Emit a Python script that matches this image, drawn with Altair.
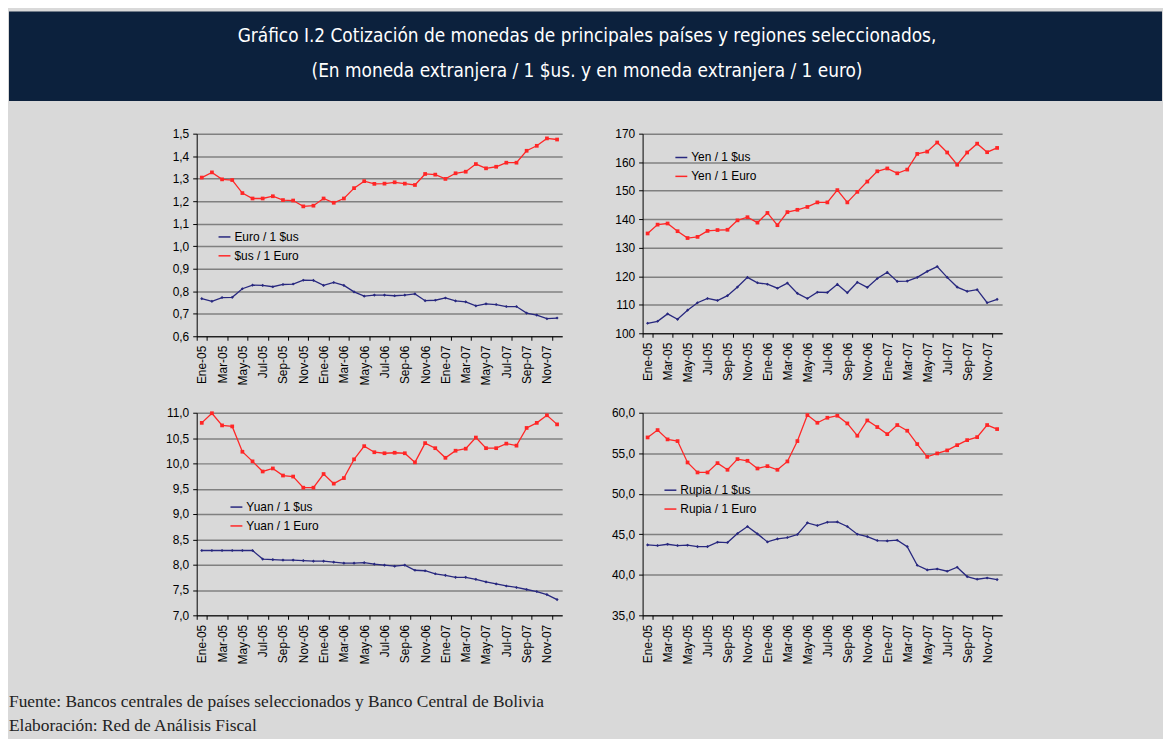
import altair as alt
import pandas as pd

MONTHS = ["Ene-05", "Feb-05", "Mar-05", "Abr-05", "May-05", "Jun-05", "Jul-05", "Ago-05", "Sep-05", "Oct-05", "Nov-05", "Dic-05",
          "Ene-06", "Feb-06", "Mar-06", "Abr-06", "May-06", "Jun-06", "Jul-06", "Ago-06", "Sep-06", "Oct-06", "Nov-06", "Dic-06",
          "Ene-07", "Feb-07", "Mar-07", "Abr-07", "May-07", "Jun-07", "Jul-07", "Ago-07", "Sep-07", "Oct-07", "Nov-07", "Dic-07"]
TICK_MONTHS = MONTHS[::2]

TITLE_LINES = ["Gráfico I.2 Cotización de monedas de principales países y regiones seleccionados,",
               "(En moneda extranjera / 1 $us. y en moneda extranjera / 1 euro)"]
FOOTER_LINES = ["Fuente: Bancos centrales de países seleccionados y Banco Central de Bolivia",
                "Elaboración: Red de Análisis Fiscal"]

EURO_USD = [0.767, 0.755, 0.772, 0.773, 0.811, 0.827, 0.826, 0.820, 0.830, 0.832, 0.849, 0.848,
            0.826, 0.839, 0.826, 0.797, 0.778, 0.783, 0.783, 0.780, 0.783, 0.788, 0.758, 0.760,
            0.770, 0.757, 0.753, 0.735, 0.744, 0.741, 0.732, 0.732, 0.703, 0.694, 0.678, 0.681]
USD_EURO = [1.305, 1.328, 1.297, 1.294, 1.236, 1.212, 1.212, 1.222, 1.205, 1.203, 1.177, 1.180,
            1.212, 1.193, 1.212, 1.258, 1.289, 1.277, 1.278, 1.284, 1.278, 1.272, 1.321, 1.318,
            1.299, 1.324, 1.331, 1.365, 1.346, 1.353, 1.371, 1.371, 1.424, 1.446, 1.479, 1.474]

YEN_USD = [103.5, 104.2, 106.8, 104.9, 108.1, 110.7, 112.2, 111.5, 113.2, 116.2, 119.6, 117.7,
           117.2, 115.8, 117.6, 114.0, 112.2, 114.4, 114.3, 117.2, 114.2, 117.9, 116.1, 119.2,
           121.4, 118.2, 118.3, 119.6, 121.7, 123.4, 119.6, 116.2, 114.7, 115.3, 110.7, 111.9]
YEN_EURO = [135.0, 138.1, 138.5, 135.8, 133.4, 133.8, 135.9, 136.2, 136.3, 139.6, 140.7, 138.8,
            142.2, 137.9, 142.5, 143.3, 144.3, 145.9, 145.9, 150.2, 145.9, 149.6, 153.2, 156.8,
            157.8, 156.1, 157.4, 162.9, 163.7, 166.9, 163.4, 159.1, 163.4, 166.5, 163.5, 165.0]

YUAN_USD = [8.28, 8.28, 8.28, 8.28, 8.28, 8.28, 8.11, 8.10, 8.09, 8.09, 8.08, 8.07,
            8.07, 8.05, 8.03, 8.03, 8.04, 8.01, 7.99, 7.97, 7.99, 7.89, 7.88, 7.82,
            7.79, 7.75, 7.75, 7.71, 7.66, 7.62, 7.58, 7.55, 7.51, 7.47, 7.41, 7.31]
YUAN_EURO = [10.80, 10.99, 10.75, 10.73, 10.23, 10.04, 9.84, 9.90, 9.76, 9.74, 9.52, 9.52,
             9.79, 9.60, 9.71, 10.08, 10.34, 10.22, 10.20, 10.21, 10.20, 10.02, 10.40, 10.30,
             10.11, 10.25, 10.29, 10.51, 10.30, 10.30, 10.39, 10.35, 10.70, 10.80, 10.95, 10.77]

RUPIA_USD = [43.69, 43.61, 43.77, 43.61, 43.65, 43.48, 43.48, 44.02, 43.98, 45.09, 45.96, 45.05,
             44.06, 44.43, 44.60, 44.97, 46.41, 46.08, 46.49, 46.53, 45.96, 45.01, 44.72, 44.23,
             44.18, 44.27, 43.48, 41.18, 40.60, 40.72, 40.44, 40.93, 39.78, 39.45, 39.61, 39.41]
RUPIA_EURO = [56.95, 57.86, 56.71, 56.50, 53.86, 52.63, 52.63, 53.78, 52.96, 54.28, 54.07, 53.12,
              53.41, 52.96, 53.99, 56.50, 59.71, 58.76, 59.38, 59.63, 58.68, 57.16, 59.05, 58.23,
              57.36, 58.48, 57.78, 56.13, 54.56, 54.98, 55.35, 56.00, 56.62, 56.99, 58.48, 57.98]

TICKS_EURO = [0.6, 0.7, 0.8, 0.9, 1.0, 1.1, 1.2, 1.3, 1.4, 1.5]
TICKS_YEN = [100, 110, 120, 130, 140, 150, 160, 170]
TICKS_YUAN = [7.0, 7.5, 8.0, 8.5, 9.0, 9.5, 10.0, 10.5, 11.0]
TICKS_RUPIA = [35.0, 40.0, 45.0, 50.0, 55.0, 60.0]

NAVY = "#28287f"
RED = "#ff2626"
BANNER = "#0c213d"
BG = "#d9d9d9"
LABEL_FONT = "Liberation Sans"
TITLE_FONT = "DejaVu Sans Condensed"


def panel(name1, vals1, name2, vals2, yticks, fmt, lx, ly, w, h):
    df = pd.DataFrame({
        "mes": MONTHS + MONTHS,
        "serie": [name1] * len(vals1) + [name2] * len(vals2),
        "valor": vals1 + vals2,
    })
    x = alt.X("mes:O", sort=MONTHS, title=None,
              scale=alt.Scale(type="band", paddingInner=0, paddingOuter=0),
              axis=alt.Axis(values=TICK_MONTHS, labelAngle=270, tickBand="extent",
                            labelFontSize=12, labelPadding=5, tickSize=4, grid=False))
    y = alt.Y("valor:Q", title=None,
              scale=alt.Scale(domain=[yticks[0], yticks[-1]], nice=False, zero=False),
              axis=alt.Axis(values=yticks, labelExpr=f"replace(format(datum.value, '{fmt}'), '.', ',')",
                            labelFontSize=12, labelPadding=4, tickSize=4, grid=True,
                            gridColor="#808080", gridWidth=1.5))
    dom = [name1, name2]
    line = alt.Chart(df).mark_line(strokeWidth=1.3).encode(
        x=x, y=y,
        color=alt.Color("serie:N", sort=dom, scale=alt.Scale(domain=dom, range=[NAVY, RED]),
                        legend=alt.Legend(title=None, orient="none", legendX=lx, legendY=ly,
                                          symbolType="stroke", symbolSize=144, symbolStrokeWidth=1.5,
                                          labelFontSize=12, labelFont=LABEL_FONT, labelColor="black",
                                          labelOffset=3, rowPadding=6, padding=0)),
    )
    p1 = alt.Chart(df).transform_filter(alt.datum.serie == name1).mark_point(
        filled=True, opacity=1, shape="diamond", size=10, color=NAVY).encode(x=x, y=y)
    p2 = alt.Chart(df).transform_filter(alt.datum.serie == name2).mark_point(
        filled=True, opacity=1, shape="square", size=14, color=RED).encode(x=x, y=y)
    return alt.layer(line, p1, p2).properties(width=w, height=h)


one = pd.DataFrame({"k": [0]})

banner_rect = alt.Chart(one).mark_rect(color=BANNER).encode(
    x=alt.value(-189), x2=alt.value(972), y=alt.value(-123), y2=alt.value(-33))
title1 = alt.Chart(pd.DataFrame({"t": [TITLE_LINES[0]]})).mark_text(
    font=TITLE_FONT, fontSize=19, color="white", align="center", baseline="middle").encode(
    x=alt.value(393), y=alt.value(-98), text="t:N")
title2 = alt.Chart(pd.DataFrame({"t": [TITLE_LINES[1]]})).mark_text(
    font=TITLE_FONT, fontSize=19, color="white", align="center", baseline="middle").encode(
    x=alt.value(393), y=alt.value(-63), text="t:N")

foot1 = alt.Chart(pd.DataFrame({"t": [FOOTER_LINES[0]]})).mark_text(
    font="Liberation Serif", fontSize=17.5, color="#222222", align="left", baseline="middle").encode(
    x=alt.value(-189), y=alt.value(291), text="t:N")
foot2 = alt.Chart(pd.DataFrame({"t": [FOOTER_LINES[1]]})).mark_text(
    font="Liberation Serif", fontSize=17.5, color="#222222", align="left", baseline="middle").encode(
    x=alt.value(-189), y=alt.value(315), text="t:N")

tl = alt.layer(banner_rect, title1, title2,
               panel("Euro / 1 $us", EURO_USD, "$us / 1 Euro", USD_EURO, TICKS_EURO, ".1f", 21, 97, 368, 204))
tr = panel("Yen / 1 $us", YEN_USD, "Yen / 1 Euro", YEN_EURO, TICKS_YEN, "d", 32, 17, 362, 201)
bl = alt.layer(foot1, foot2,
               panel("Yuan / 1 $us", YUAN_USD, "Yuan / 1 Euro", YUAN_EURO, TICKS_YUAN, ".1f", 33, 88, 368, 204))
br = panel("Rupia / 1 $us", RUPIA_USD, "Rupia / 1 Euro", RUPIA_EURO, TICKS_RUPIA, ".1f", 21, 71, 362, 204)

chart = alt.concat(tl, tr, bl, br, columns=2, spacing={"row": 77, "column": 81}, bounds="flush").resolve_scale(
    color="independent"
).configure(
    background=BG, padding={"left": 0, "top": 0, "right": 0, "bottom": 2}
).configure_view(
    stroke="transparent"
).configure_axis(
    labelFont=LABEL_FONT, labelColor="black", domainColor="black", tickColor="black",
    domainWidth=1, tickWidth=1
)

chart.save("out.html", embed_options={"renderer": "svg", "actions": False})
